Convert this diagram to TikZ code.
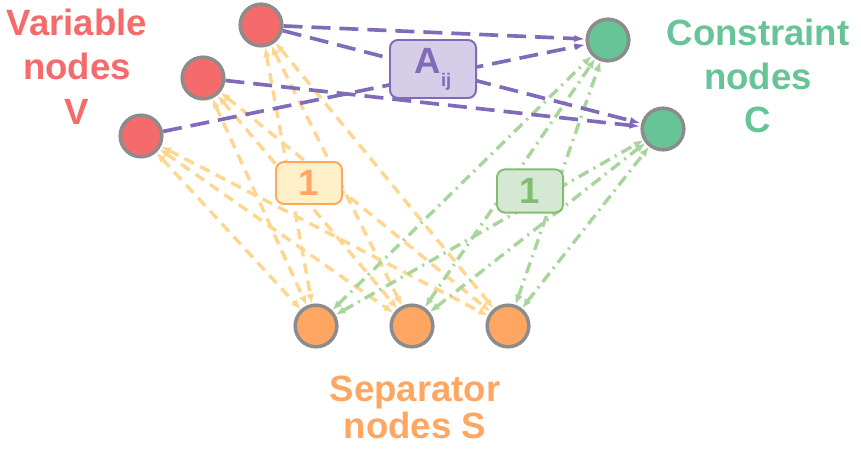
\documentclass[tikz,border=0pt]{standalone}
\usepackage{fontspec}
\setmainfont{Liberation Sans}
\usetikzlibrary{arrows.meta,backgrounds}

\definecolor{varred}{HTML}{F56A6A}
\definecolor{congreen}{HTML}{66C497}
\definecolor{seporange}{HTML}{FFA762}
\definecolor{ringgray}{HTML}{8C8C8C}
\definecolor{apurple}{HTML}{7F6BBA}
\definecolor{afill}{HTML}{D6CDE8}
\definecolor{oline}{HTML}{FFD68F}
\definecolor{ofill}{HTML}{FFF0C8}
\definecolor{gline}{HTML}{A8D59C}
\definecolor{gfill}{HTML}{D5E8D4}
\definecolor{gdark}{HTML}{82BD72}

\tikzset{
	bignode/.style={circle,draw=ringgray,line width=2.5pt,minimum size=1.04cm,inner sep=0pt},
	varnode/.style={bignode,fill=varred},
	connode/.style={bignode,fill=congreen},
	sepnode/.style={bignode,fill=seporange},
	bigtext/.style={font=\fontsize{26}{31}\selectfont\bfseries,align=center,anchor=base},
	weightbox/.style={rounded corners=0.2cm,line width=1.4pt,inner sep=0pt,
		font=\fontsize{26}{31}\selectfont\bfseries},
	aedge/.style={apurple,line width=2.6pt,dash pattern=on 13.5pt off 6.4pt,
		-{Latex[length=8pt,width=5pt]}},
	oedge/.style={oline,line width=2.4pt,dash pattern=on 7.5pt off 5pt,
		{Latex[length=7pt,width=5.5pt]}-{Latex[length=7pt,width=5.5pt]}},
	gedge/.style={gline,line width=2.4pt,dash pattern=on 8pt off 4pt on 1.5pt off 4pt,
		{Latex[length=7pt,width=5.5pt]}-{Latex[length=7pt,width=5.5pt]}}
}

\begin{document}
\begin{tikzpicture}[x=0.025cm,y=-0.025cm]
	\useasboundingbox (0,0) rectangle (861,452);

	\node[varnode] (V1) at (261,25) {};
	\node[varnode] (V2) at (203,78) {};
	\node[varnode] (V3) at (141,136) {};

	\node[connode] (C1) at (608,40) {};
	\node[connode] (C2) at (663,129) {};

	\node[sepnode] (S1) at (316,326) {};
	\node[sepnode] (S2) at (412,326) {};
	\node[sepnode] (S3) at (508,326) {};

	\node[weightbox,draw=apurple,fill=afill,text=apurple,minimum width=2.15cm,minimum height=1.45cm]
		(Aij) at (433,69) {A\raisebox{-9pt}{\fontsize{13}{13}\selectfont ij}};
	\node[weightbox,draw=seporange,fill=ofill,text=seporange,minimum width=1.65cm,minimum height=1.05cm]
		(onebox) at (309,183) {1};
	\node[weightbox,draw=gdark,fill=gfill,text=gdark,minimum width=1.65cm,minimum height=1.08cm]
		(gonebox) at (530,191) {1};

	\node[bigtext,text=varred] (varlabel) at (77,125) {Variable\\[1pt]nodes\\[1pt]V};
	\node[bigtext,text=congreen] (conlabel) at (758,133) {Constraint\\nodes\\C};
	\node[bigtext,text=seporange] (seplabel) at (415,438) {Separator\\[-5pt]nodes S};

	\begin{pgfonlayer}{background}
		\foreach \v in {V1,V2,V3}
			\foreach \s in {S1,S2,S3}
				\draw[oedge](\v)--(\s);

		\foreach \s in {S1,S2,S3}
			\foreach \c in {C1,C2}
				\draw[gedge](\s)--(\c);

		\draw[aedge](V1)--(C1);
		\draw[aedge](V1)--(C2);
		\draw[aedge](V2)--(C2);
		\draw[aedge](V3)--(C1);
	\end{pgfonlayer}

\end{tikzpicture}
\end{document}
